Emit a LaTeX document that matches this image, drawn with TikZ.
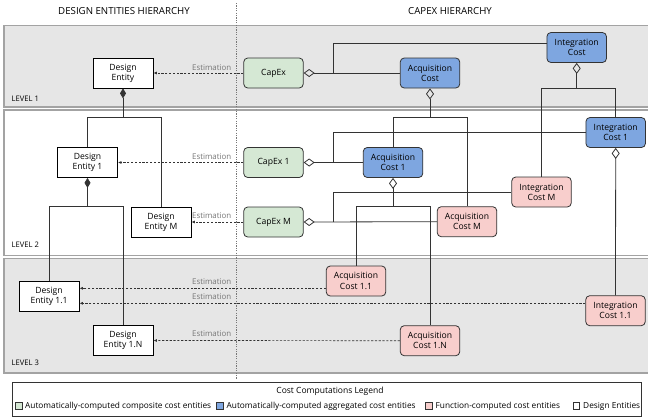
\documentclass[tikz,border=0pt]{standalone}
\usepackage{fontspec}
\setmainfont{Open Sans}
\usetikzlibrary{arrows.meta}
\definecolor{bandgray}{HTML}{E6E6E6}
\definecolor{bandline}{HTML}{A3A3A3}
\definecolor{edgecol}{HTML}{333333}
\definecolor{greenfill}{HTML}{D5E8D4}
\definecolor{bluefill}{HTML}{7EA6E0}
\definecolor{pinkfill}{HTML}{F8CECC}
\definecolor{labelgray}{HTML}{777777}
\tikzset{
  band/.style={fill=bandgray, draw=bandline, line width=1.2pt},
  entity/.style={draw=black, fill=white, line width=0.8pt, minimum width=60pt, minimum height=30pt,
    align=center, inner sep=1pt, font=\fontsize{8.6}{10.2}\selectfont},
  cost/.style={draw=edgecol, rounded corners=4pt, line width=0.8pt, minimum width=59.5pt, minimum height=30pt,
    align=center, inner sep=1pt, font=\fontsize{8.6}{10.2}\selectfont},
  composite/.style={cost, fill=greenfill},
  aggregated/.style={cost, fill=bluefill},
  computed/.style={cost, fill=pinkfill},
  link/.style={draw=edgecol, line width=0.8pt},
  agg/.style={link, {Diamond[open, length=11pt, width=8pt, line width=0.8pt]}-},
  comp/.style={link, {Diamond[length=10pt, width=6pt]}-},
  est/.style={draw=edgecol, line width=0.7pt, dash pattern=on 2.2pt off 1.6pt, -{Latex[length=3.5pt, width=3pt]}},
  estlbl/.style={anchor=south east, inner sep=0pt, text=labelgray, font=\fontsize{7.9}{9.5}\selectfont},
  title/.style={font=\fontsize{9.7}{11.5}\selectfont},
  levellbl/.style={anchor=west, inner sep=0pt, font=\fontsize{7.6}{9}\selectfont},
  legsq/.style={draw=edgecol, line width=0.6pt, minimum size=6.5pt, inner sep=0pt},
  legtxt/.style={anchor=west, inner sep=0pt, font=\fontsize{8.3}{9.8}\selectfont},
}
\begin{document}
\begin{tikzpicture}[x=1pt, y=-1pt]
\useasboundingbox (0,0) rectangle (648,418);
\begin{scope}
\clip (0,0) rectangle (648,418);
% level bands
\draw[band] (4,25.5) rectangle (660,107);
\draw[band, fill=white] (4,110) rectangle (660,255.5);
\draw[band] (4,258.5) rectangle (660,373);
\end{scope}
% column divider
\draw[labelgray, line width=0.6pt, dash pattern=on 1.2pt off 1.2pt] (236.5,3) -- (236.5,379);

% headings
\node[title] (h1) at (124,11) {DESIGN ENTITIES HIERARCHY};
\node[title] (h2) at (450,11) {CAPEX HIERARCHY};
\node[levellbl] (l1) at (11.5,99) {LEVEL 1};
\node[levellbl] (l2) at (11.5,245) {LEVEL 2};
\node[levellbl] (l3) at (11.5,363) {LEVEL 3};

% design entities
\node[entity] (de)   at (123,73)    {Design\\Entity};
\node[entity] (de1)  at (87.5,162.5) {Design\\Entity 1};
\node[entity] (deM)  at (161,222)   {Design\\Entity M};
\node[entity] (de11) at (49,296)    {Design\\Entity 1.1};
\node[entity] (de1N) at (123,340.5) {Design\\Entity 1.N};

% cost entities
\node[composite] (capex)  at (273.5,73)    {CapEx};
\node[composite] (capex1) at (273.5,162.5) {CapEx 1};
\node[composite] (capexM) at (273.5,222)   {CapEx M};
\node[aggregated] (acq)   at (430,73)      {Acquisition\\Cost};
\node[aggregated] (intc)  at (576.7,47.5)  {Integration\\Cost};
\node[aggregated] (acq1)  at (393,162.5)   {Acquisition\\Cost 1};
\node[aggregated] (intc1) at (615.7,132.5) {Integration\\Cost 1};
\node[computed] (intcM)   at (541.5,192)   {Integration\\Cost M};
\node[computed] (acqM)    at (467,221.7)   {Acquisition\\Cost M};
\node[computed] (acq11)   at (356,281)     {Acquisition\\Cost 1.1};
\node[computed] (intc11)  at (615.5,310.7) {Integration\\Cost 1.1};
\node[computed] (acq1N)   at (430,340.7)   {Acquisition\\Cost 1.N};

% junction points of the hierarchy trees
\coordinate (t1) at (123,117.3);
\coordinate (t2) at (87.5,206.7);
\coordinate (t3) at (430,117.3);
\coordinate (t4) at (576.7,88.5);
\coordinate (t5) at (393,206.7);
\coordinate (j1) at (333.3,73);
\coordinate (j2) at (333.3,162.5);
\coordinate (j3) at (333.3,222);

% design entity composition
\draw[comp] (de.south) -- (t1);
\draw[link] (t1) -| (de1.north);
\draw[link] (t1) -| (deM.north);
\draw[comp] (de1.south) -- (t2);
\draw[link] (t2) -| (de11.north);
\draw[link] (t2) -| (de1N.north);

% cost aggregation
\draw[agg] (capex.east) -- (acq.west);
\draw[link] (j1) |- ([yshift=3.8pt]intc.west);
\draw[agg] (capex1.east) -- (acq1.west);
\draw[link] (j2) |- (intc1.west);
\draw[agg] (capexM.east) -- (acqM.west);
\draw[link] (j3) |- (intcM.west);

\draw[agg] (acq.south) -- (t3);
\draw[link] (t3) -| (acq1.north);
\draw[link] (t3) -| (acqM.north);
\draw[agg] (intc.south) -- (t4);
\draw[link] (t4) -| (intcM.north);
\draw[link] (t4) -| (intc1.north);
\draw[agg] (acq1.south) -- (t5);
\draw[link] (t5) -| (acq11.north);
\draw[link] (t5) -| (acq1N.north);
\draw[agg] (intc1.south) -- (intc11.north);

% estimation links
\draw[est] (capex.west) -- (de.east);
\draw[est] (capex1.west) -- (de1.east);
\draw[est] (capexM.west) -- (deM.east);
\draw[est] ([yshift=-7.3pt]acq11.west) coordinate (e4) -- (e4 -| de11.east);
\draw[est] ([yshift=7.4pt]intc11.west) coordinate (e5) -- (e5 -| de11.east);
\draw[est] (acq1N.west) -- (de1N.east);
\node[estlbl] (lbA) at (231.5,70.5)  {Estimation};
\node[estlbl] (lbB) at (231.5,159.5) {Estimation};
\node[estlbl] (lbC) at (231.5,219)   {Estimation};
\node[estlbl] (lbD) at (231.5,285)   {Estimation};
\node[estlbl] (lbE) at (231.5,300)   {Estimation};
\node[estlbl] (lbF) at (231.5,337)   {Estimation};

% legend
\draw[draw=edgecol, line width=0.6pt, fill=white] (12,382.5) rectangle (641,416);
\node[font=\fontsize{8.5}{10}\selectfont] (lgt) at (330,391.5) {Cost Computations Legend};
\node[legsq, fill=greenfill] (sq1) at (19,406) {};
\node[legtxt] (tx1) at (25,406) {Automatically-computed composite cost entities};
\node[legsq, fill=bluefill] (sq2) at (220,406) {};
\node[legtxt] (tx2) at (226.5,406) {Automatically-computed aggregated cost entities};
\node[legsq, fill=pinkfill] (sq3) at (429,406) {};
\node[legtxt] (tx3) at (435.5,406) {Function-computed cost entities};
\node[legsq, fill=white] (sq4) at (576.5,406) {};
\node[legtxt] (tx4) at (583,406) {Design Entities};
\end{tikzpicture}
\end{document}
